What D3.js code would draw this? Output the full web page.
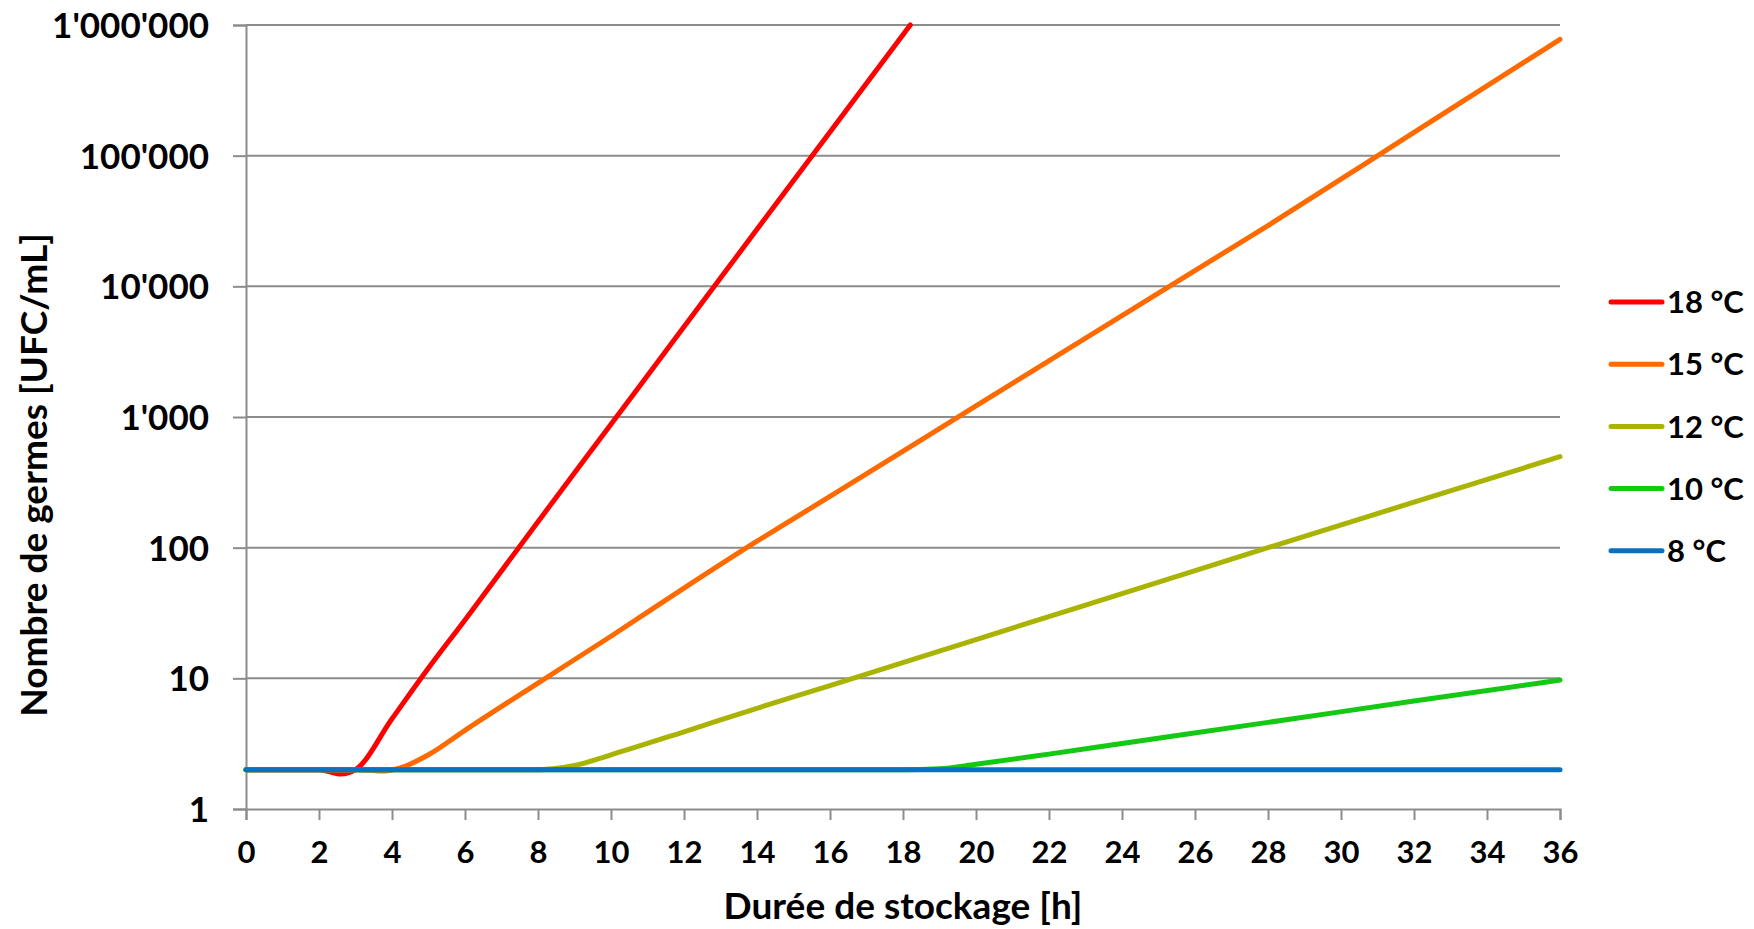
<!DOCTYPE html>
<html lang="fr">
<head>
  <meta charset="UTF-8" />
  <title>Nombre de germes selon la durée de stockage</title>
  <script src="https://cdn.jsdelivr.net/npm/d3@7/dist/d3.min.js"></script>
  <style>
    body { margin: 0; background: #fff; }
    svg text { font-family: Lato, 'Noto Sans', sans-serif; font-weight: bold; fill: #000; }
  </style>
</head>
<body>
  <svg width="1754" height="929"></svg>

  <script>
    // séries (h, UFC/mL)
    const serie18 = [
      [0, 2], [1, 2], [2, 2], [2.6, 1.85], [3, 2.0], [4, 4.9], [5, 12],
      [6, 28], [8, 158], [10, 880], [12, 4900], [14, 27300], [16, 152000], [18.2, 1000000],
    ];
    const serie15 = [
      [0, 2], [2, 2], [3, 2], [3.7, 1.95], [4.2, 2.05], [5, 2.6], [6, 4.0], [8, 9.2],
      [10, 21], [12, 49], [14, 112], [16, 247], [20, 1216], [24, 5980], [28, 29200],
      [32, 150600], [36, 776000],
    ];
    const serie12 = [
      [0, 2], [2, 2], [4, 2], [6, 2], [8, 2], [9, 2.15], [10, 2.6], [12, 3.9], [14, 5.9],
      [16, 8.8], [20, 19.8], [24, 44.5], [28, 100], [32, 223], [36, 497],
    ];
    const serie10 = [
      [0, 2], [4, 2], [8, 2], [12, 2], [16, 2], [18, 2], [19, 2.03], [20, 2.2], [22, 2.63],
      [24, 3.17], [28, 4.6], [32, 6.7], [36, 9.7],
    ];
    const serie8 = [[0, 2], [6, 2], [12, 2], [18, 2], [24, 2], [30, 2], [36, 2]];

    const noms = ['18 °C', '15 °C', '12 °C', '10 °C', '8 °C'];
    const couleurs = ['#ff0000', '#ff6a00', '#aab400', '#14c814', '#0a70bf'];
    const series = [serie18, serie15, serie12, serie10, serie8];

    const xTicks = d3.range(0, 37, 2);
    const yTicks = [1, 10, 100, 1000, 10000, 100000, 1000000];
    const yLabels = ['1', '10', '100', "1'000", "10'000", "100'000", "1'000'000"];

    const svg = d3.select('svg');
    const gauche = 246, droite = 1560, haut = 25, bas = 809;

    const x = d3.scaleLinear().domain([0, 36]).range([gauche, droite]);
    const y = d3.scaleLog().domain([1, 1000000]).range([bas, haut]);

    const gris = '#8c8c8c';

    // grille horizontale
    svg.append('g')
      .selectAll('line')
      .data(yTicks.slice(1))
      .enter()
      .append('line')
      .attr('x1', gauche).attr('x2', droite)
      .attr('y1', (d) => y(d)).attr('y2', (d) => y(d))
      .attr('stroke', gris).attr('stroke-width', 2);

    // axe Y
    const yAxis = svg.append('g')
      .attr('transform', `translate(${gauche},0)`)
      .call(d3.axisLeft(y).tickValues(yTicks).tickSize(13).tickPadding(24)
        .tickFormat((d, i) => yLabels[i]));
    yAxis.select('.domain').attr('stroke', gris).attr('stroke-width', 2);
    yAxis.selectAll('.tick line').attr('stroke', gris).attr('stroke-width', 2);
    yAxis.selectAll('.tick text').style('font-size', '35px').attr('dy', '0.36em');

    // axe X
    const xAxis = svg.append('g')
      .attr('transform', `translate(0,${bas})`)
      .call(d3.axisBottom(x).tickValues(xTicks).tickSize(11).tickPadding(21));
    xAxis.select('.domain').attr('stroke', gris).attr('stroke-width', 2);
    xAxis.selectAll('.tick line').attr('stroke', gris).attr('stroke-width', 2);
    xAxis.selectAll('.tick text').style('font-size', '31px');

    // courbes
    const ligne = d3.line()
      .x((d) => x(d[0]))
      .y((d) => y(d[1]))
      .curve(d3.curveMonotoneX);

    svg.append('g')
      .selectAll('path')
      .data(series)
      .enter()
      .append('path')
      .attr('d', ligne)
      .attr('fill', 'none')
      .attr('stroke', (d, i) => couleurs[i])
      .attr('stroke-width', 5)
      .attr('stroke-linecap', 'round')
      .attr('stroke-linejoin', 'round');

    // titres des axes
    svg.append('text')
      .attr('x', (gauche + droite) / 2)
      .attr('y', 919)
      .attr('text-anchor', 'middle')
      .style('font-size', '37px')
      .text('Durée de stockage [h]');

    svg.append('text')
      .attr('transform', 'translate(47,475) rotate(-90)')
      .attr('text-anchor', 'middle')
      .style('font-size', '37px')
      .text('Nombre de germes [UFC/mL]');

    // légende
    const legende = svg.append('g')
      .selectAll('g')
      .data(noms)
      .enter()
      .append('g')
      .attr('transform', (d, i) => `translate(1611,${302 + i * 62.2})`);

    legende.append('line')
      .attr('x1', 0).attr('x2', 51)
      .attr('stroke', (d, i) => couleurs[i])
      .attr('stroke-width', 5)
      .attr('stroke-linecap', 'round');

    legende.append('text')
      .attr('x', 56)
      .attr('dy', '0.36em')
      .style('font-size', '31px')
      .text((d) => d);
  </script>
</body>
</html>
